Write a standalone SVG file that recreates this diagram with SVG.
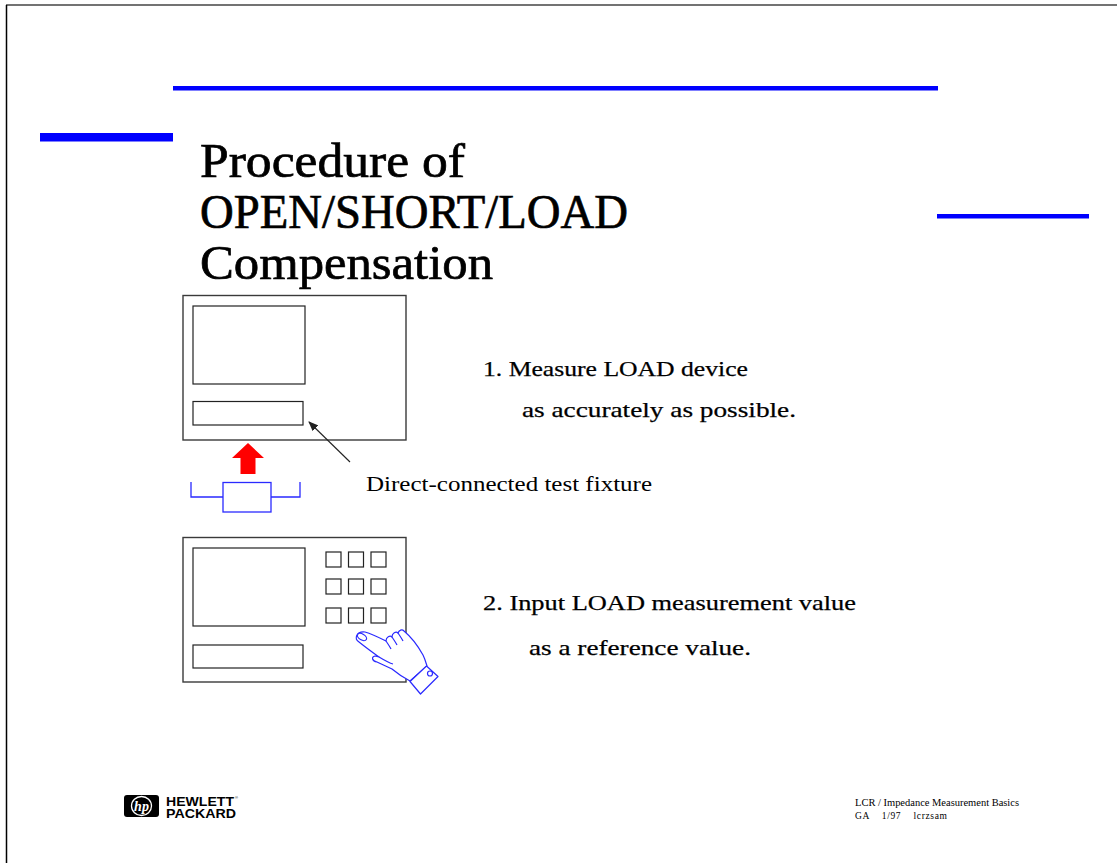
<svg xmlns="http://www.w3.org/2000/svg" width="1117" height="863" viewBox="0 0 1117 863">
  <style>
    .frame { fill: none; stroke: #3a3a3a; stroke-width: 1.4; }
    .inner { fill: none; stroke: #222; stroke-width: 1.2; }
    .bar { fill: #0000ff; }
    .title { font-family: "Liberation Serif", "DejaVu Serif", serif; font-size: 48px; fill: #000; stroke: #000; stroke-width: 0.7; }
    .body { font-family: "Liberation Serif", "DejaVu Serif", serif; font-size: 22px; fill: #000; stroke: #000; stroke-width: 0.25; }
    .label { font-family: "Liberation Serif", "DejaVu Serif", serif; font-size: 20px; fill: #000; }
    .foot { font-family: "Liberation Serif", "DejaVu Serif", serif; font-size: 9.5px; fill: #000; }
    .blue { fill: none; stroke: #2a2aff; stroke-width: 1.3; }
    .hp { font-family: "Liberation Sans", Arial, sans-serif; font-weight: bold; font-size: 12.5px; fill: #000; }
  </style>
  <defs>
    <marker id="arrowhead" markerWidth="10" markerHeight="8" refX="9" refY="4" orient="auto" markerUnits="userSpaceOnUse">
      <path d="M0,0 L10,4 L0,8 Z" fill="#222"/>
    </marker>
  </defs>

  <rect width="1117" height="863" fill="#fff"/>

  <!-- page edges -->
  <line x1="6" y1="5" x2="1117" y2="5" stroke="#444" stroke-width="1.5"/>
  <line x1="6.5" y1="5" x2="6.5" y2="863" stroke="#000" stroke-width="1.5"/>

  <!-- decorative rules -->
  <rect class="bar" x="173" y="86" width="765" height="4.5"/>
  <rect class="bar" x="40" y="133" width="133" height="8.5"/>
  <rect class="bar" x="937" y="214" width="152" height="4.5"/>

  <!-- title -->
  <g id="title">
    <text class="title" x="200" y="177" textLength="265" lengthAdjust="spacingAndGlyphs">Procedure of</text>
    <text class="title" x="200" y="228" textLength="428" lengthAdjust="spacingAndGlyphs">OPEN/SHORT/LOAD</text>
    <text class="title" x="200" y="279" textLength="293" lengthAdjust="spacingAndGlyphs">Compensation</text>
  </g>

  <!-- analyzer with fixture attached -->
  <g id="analyzer-measure">
    <rect class="frame" x="183" y="295.5" width="223" height="144.5"/>
    <rect class="inner" x="193" y="306" width="112" height="78"/>
    <rect class="inner" x="193" y="401.5" width="110" height="23.5"/>
  </g>

  <!-- red insertion arrow -->
  <g id="insert-arrow">
    <path d="M248,443 L264,458 L255.5,458 L255.5,474 L240.5,474 L240.5,458 L232,458 Z" fill="#ff0000"/>
  </g>

  <!-- test fixture -->
  <g id="test-fixture">
    <path class="blue" d="M191,482 V497 H223 M271,497 H300 V482"/>
    <rect class="blue" x="223" y="482.5" width="48" height="29.5"/>
  </g>

  <!-- connectors -->
  <g id="connectors">
    <line x1="350" y1="462" x2="309" y2="422" stroke="#222" stroke-width="1.1" marker-end="url(#arrowhead)"/>
  </g>

  <g id="fixture-label">
    <text class="label" x="366" y="491" textLength="286" lengthAdjust="spacingAndGlyphs">Direct-connected test fixture</text>
  </g>

  <g id="step1">
    <text class="body" x="483" y="376" textLength="265" lengthAdjust="spacingAndGlyphs">1. Measure LOAD device</text>
    <text class="body" x="522" y="417" textLength="274" lengthAdjust="spacingAndGlyphs">as accurately as possible.</text>
  </g>

  <!-- analyzer with keypad -->
  <g id="analyzer-input">
    <rect class="frame" x="183" y="537.5" width="223" height="144.5"/>
    <rect class="inner" x="193" y="548" width="112" height="78"/>
    <rect class="inner" x="193" y="645" width="110" height="23"/>
    <g class="inner">
      <rect x="326" y="552" width="15" height="15"/>
      <rect x="348.5" y="552" width="15" height="15"/>
      <rect x="371" y="552" width="15" height="15"/>
      <rect x="326" y="579" width="15" height="15"/>
      <rect x="348.5" y="579" width="15" height="15"/>
      <rect x="371" y="579" width="15" height="15"/>
      <rect x="326" y="608" width="15" height="15"/>
      <rect x="348.5" y="608" width="15" height="15"/>
      <rect x="371" y="608" width="15" height="15"/>
    </g>
  </g>

  <!-- pointing hand -->
  <g id="hand" fill="#fff" stroke="#2a2aff" stroke-width="1.2" stroke-linejoin="round">
    <path d="M365,632 C372,634 380,638 386,641 C386,637 390,635 392,637 C392,633 396,631 398,633 C399,630 402,629 404,631 C410,636 418,646 423,655 C425,659 426,663 427,666 L410,681 C404,678 398,674 392,669 L377,662 C372,661 371,657 375,656 L379,657 C372,652 364,646 359,642 C354,639 356,631 365,632 Z"/>
    <ellipse cx="362" cy="637" rx="5" ry="3" transform="rotate(30 362 637)"/>
    <path d="M386,641 C388,644 390,647 391,649 M392,637 C394,640 396,643 397,645 M398,633 C400,636 402,639 403,641" fill="none"/>
    <path d="M379,657 C384,660 389,663 393,664" fill="none"/>
    <path d="M410,681.5 L426.5,666 L438,676.5 L420.5,694 Z"/>
    <circle cx="430" cy="673.5" r="2.5"/>
  </g>

  <g id="step2">
    <text class="body" x="483" y="610" textLength="373" lengthAdjust="spacingAndGlyphs">2. Input LOAD measurement value</text>
    <text class="body" x="529" y="655" textLength="222" lengthAdjust="spacingAndGlyphs">as a reference value.</text>
  </g>

  <!-- company logo -->
  <g id="logo">
    <rect x="124" y="795" width="35" height="22" rx="3" fill="#000"/>
    <ellipse cx="141.5" cy="806" rx="10" ry="9.5" fill="none" stroke="#fff" stroke-width="1.3"/>
    <text x="141.5" y="811" text-anchor="middle" font-family="Liberation Serif, serif" font-style="italic" font-weight="bold" font-size="14" fill="#fff">hp</text>
    <text class="hp" x="166" y="805.5" textLength="68" lengthAdjust="spacingAndGlyphs">HEWLETT</text>
    <text class="hp" x="166" y="817.5" textLength="70" lengthAdjust="spacingAndGlyphs">PACKARD</text>
    <text x="235" y="799" font-family="Liberation Sans, sans-serif" font-size="4" fill="#000">®</text>
  </g>

  <!-- footer -->
  <g id="footer">
    <text class="foot" x="855" y="806" textLength="164" lengthAdjust="spacingAndGlyphs">LCR / Impedance Measurement Basics</text>
    <text class="foot" x="855" y="819" textLength="92" lengthAdjust="spacing" xml:space="preserve">GA    1/97    lcrzsam</text>
  </g>
</svg>
